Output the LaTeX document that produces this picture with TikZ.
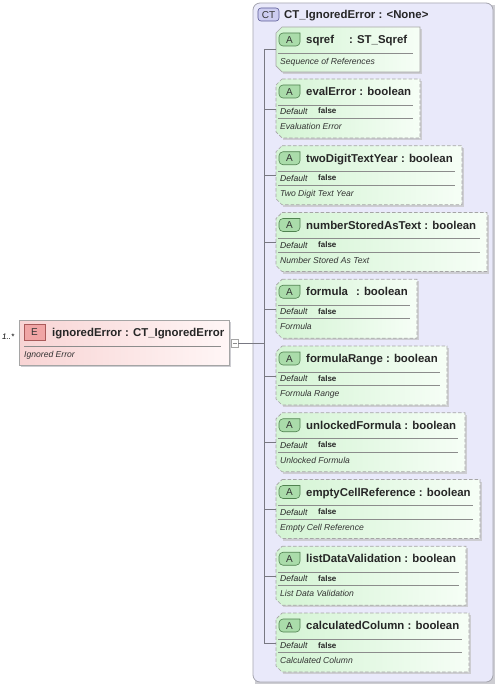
\documentclass[tikz,border=0pt]{standalone}
\usepackage{fontspec}
\setmainfont{Liberation Sans}
\definecolor{ctfill}{RGB}{233,233,250}
\definecolor{ctborder}{RGB}{165,165,175}
\definecolor{ctlab}{RGB}{205,205,240}
\definecolor{ctlabb}{RGB}{90,90,150}
\definecolor{agl}{RGB}{212,244,212}
\definecolor{agr}{RGB}{246,254,246}
\definecolor{aicon}{RGB}{170,220,170}
\definecolor{aiconb}{RGB}{80,130,80}
\definecolor{boxb}{RGB}{165,165,165}
\definecolor{sepc}{RGB}{140,140,140}
\definecolor{shadowc}{RGB}{205,205,210}
\definecolor{epl}{RGB}{248,212,212}
\definecolor{epr}{RGB}{255,246,246}
\definecolor{eicon}{RGB}{240,165,165}
\definecolor{eiconb}{RGB}{170,90,90}
\definecolor{connc}{RGB}{120,120,130}
\tikzset{
  titlefont/.style={font=\bfseries\fontsize{11.4}{13}\selectfont, inner sep=0pt, text=black!85},
  descfont/.style={font=\itshape\fontsize{8.6}{10}\selectfont, inner sep=0pt, text=black!80},
  deflabel/.style={font=\itshape\fontsize{8.6}{10}\selectfont, inner sep=0pt, text=black!85},
  defval/.style={font=\bfseries\fontsize{8}{9}\selectfont, inner sep=0pt, text=black!85},
  seprule/.style={draw=sepc, line width=0.6pt},
  conn/.style={draw=connc, line width=0.6pt},
  iconlab/.style={font=\fontsize{10}{11}\selectfont, inner sep=0pt, text=black!80},
}
% attribute box: #1 name, #2 top, #3 right, #4 bottom, #5 border style
\newcommand\attrshape[5]{%
  \fill[shadowc] (283,#2+2) -- (#3+2,#2+2) -- (#3+2,#4+2) -- (283,#4+2) -- cycle;
  \shade[left color=agl, right color=agr, draw=boxb, line width=0.7pt, #5]
    (282,#2) -- (#3,#2) -- (#3,#4) -- (282,#4) -- (276,#4-6) -- (276,#2+6) -- cycle;
  \filldraw[fill=aicon, draw=aiconb, line width=0.6pt, rounded corners=4]
    (300,#2+6) -- (279,#2+6) -- (279,#2+19) -- (300,#2+19) [sharp corners] -- cycle;
  \node[iconlab] (#1i) at (289.5,#2+12.7) {A};
  \coordinate (#1) at (276,#2+30);
}
% optional attribute with default
\newcommand\attropt[6]{% name, top, right, title, desc
  \attrshape{#1}{#2}{#3}{#2+59}{dashed, dash pattern=on 3.5pt off 2pt}
  \node[titlefont, anchor=base west] (#1t) at (306,#2+16.5) {#4};
  \draw[seprule] (278,#2+26) -- (#3-7,#2+26);
  \node[deflabel, anchor=base west] (#1d) at (280,#2+35.5) {Default};
  \node[defval, anchor=base west] (#1v) at (318,#2+35) {false};
  \draw[seprule] (278,#2+39.5) -- (#3-7,#2+39.5);
  \node[descfont, anchor=base west] (#1e) at (280,#2+50.5) {#5};
}
\begin{document}
\begin{tikzpicture}[x=1pt,y=-1pt]
\useasboundingbox (0,0) rectangle (498,687);
% complex type container
\fill[shadowc] (255,5) rectangle (495,684);
\filldraw[fill=ctfill, draw=ctborder, line width=0.8pt, rounded corners=7] (253,3) rectangle (493,682);
\filldraw[fill=ctlab, draw=ctlabb, line width=0.6pt, rounded corners=3] (258,8) rectangle (279,21);
\node[iconlab] (cticon) at (268.5,14.6) {CT};
\node[titlefont, anchor=base west] (cttitle) at (284,18.5) {CT\_IgnoredError : <None>};

% element box
\fill[shadowc] (21,322) rectangle (231,367);
\shade[left color=epl, right color=epr, draw=boxb, line width=0.7pt] (19,320) rectangle (229,365);
\filldraw[fill=eicon, draw=eiconb, line width=0.6pt] (24,324) rectangle (45,340);
\node[iconlab] (eicon) at (34.5,332.3) {E};
\node[titlefont, anchor=base west] (etitle) at (52,336) {ignoredError : CT\_IgnoredError};
\draw[seprule] (24,346) -- (221,346);
\node[descfont, anchor=base west] (edesc) at (24,357) {Ignored Error};
\node[font=\itshape\fontsize{8}{9}\selectfont, inner sep=0pt, anchor=base west] (mult) at (2,339) {1..*};
% collapse symbol
\node[draw=boxb, fill=white, line width=0.6pt, minimum width=7pt, minimum height=8pt, inner sep=0pt] (coll) at (234.5,343) {};
\draw[draw=sepc, line width=0.6pt] (232.5,343) -- (236.5,343);

% spine
\coordinate (vtop) at (264,49);
\coordinate (vbot) at (264,643);
\coordinate (vmid) at (264,343);
\draw[conn] (coll.east) -- (vmid);
\draw[conn] (vtop) -- (vbot);

% sqref (required)
\attrshape{sqref}{27}{420}{72}{solid}
\node[titlefont, anchor=base west] (sqreft) at (306,43.5) {sqref\hspace{15pt}: ST\_Sqref};
\draw[seprule] (278,53) -- (413,53);
\node[descfont, anchor=base west] (sqrefe) at (280,64.5) {Sequence of References};
\coordinate (sqref) at (276,49);

\attropt{evalError}{79}{420}{evalError : boolean}{Evaluation Error}{}
\attropt{twoDigit}{145.75}{462}{twoDigitTextYear : boolean}{Two Digit Text Year}{}
\attropt{numStored}{212.5}{487}{numberStoredAsText : boolean}{Number Stored As Text}{}
\attropt{formula}{279.25}{417}{formula\hspace{8pt}: boolean}{Formula}{}
\attropt{formulaRange}{346}{447}{formulaRange : boolean}{Formula Range}{}
\attropt{unlocked}{412.75}{465}{unlockedFormula : boolean}{Unlocked Formula}{}
\attropt{emptyCell}{479.5}{480}{emptyCellReference : boolean}{Empty Cell Reference}{}
\attropt{listData}{546.25}{466}{listDataValidation : boolean}{List Data Validation}{}
\attropt{calcCol}{613}{469}{calculatedColumn : boolean}{Calculated Column}{}

\foreach \n in {sqref,evalError,twoDigit,numStored,formula,formulaRange,unlocked,emptyCell,listData,calcCol}
  \draw[conn] (vtop |- \n) -- (\n);
\end{tikzpicture}
\end{document}
